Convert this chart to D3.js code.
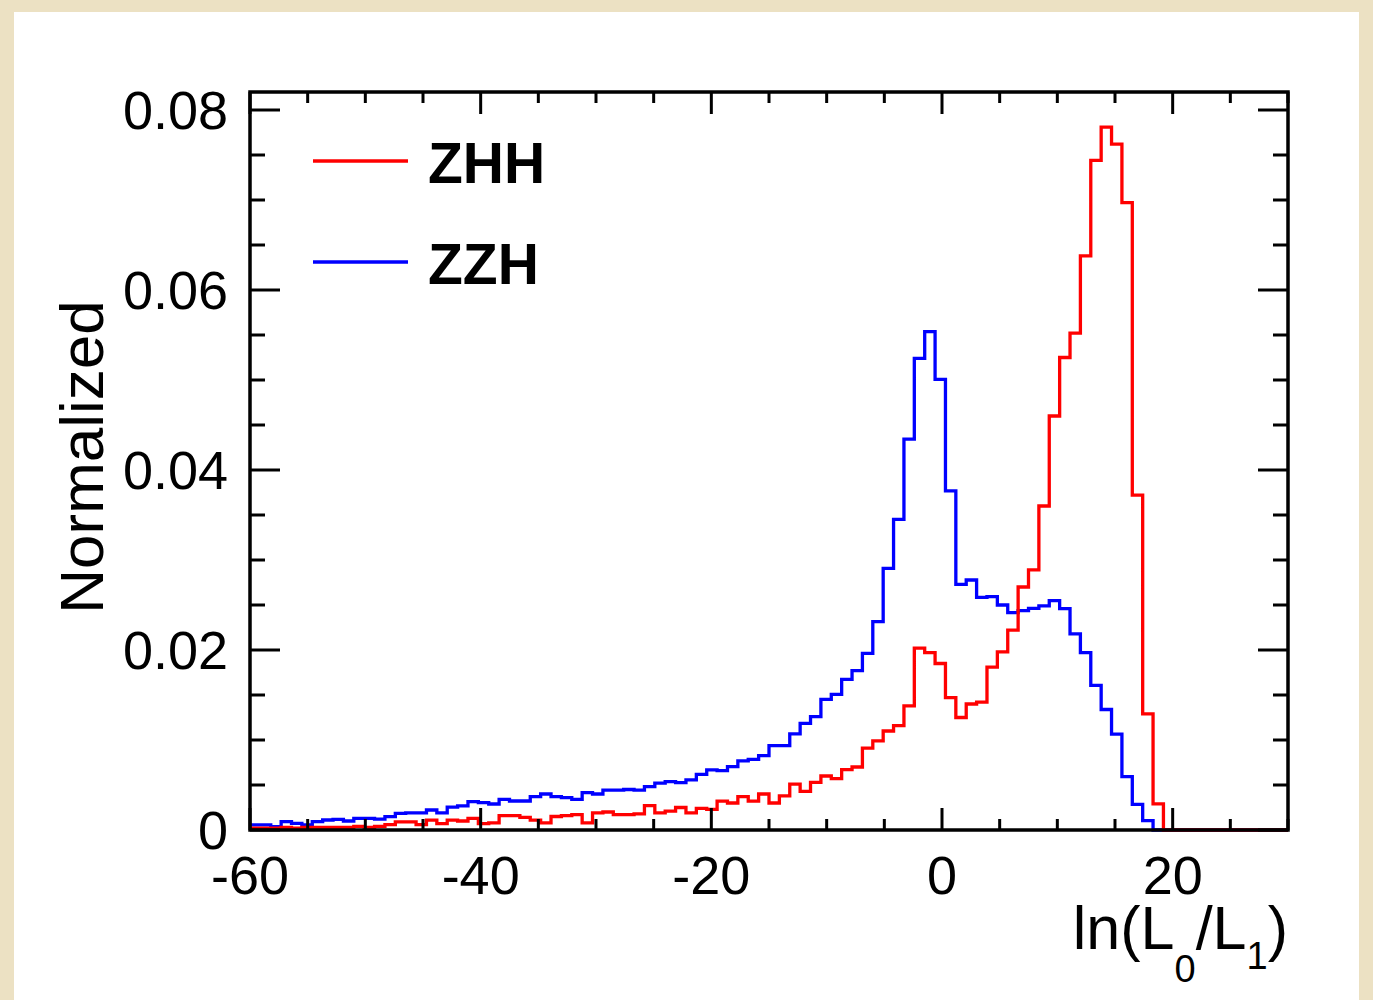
<!DOCTYPE html>
<html>
<head>
<meta charset="utf-8">
<script src="https://cdn.jsdelivr.net/npm/d3@7/dist/d3.min.js"></script>
<style>
  html, body { margin: 0; padding: 0; background: #ece1c3; }
  svg { display: block; }
  text { font-family: "Liberation Sans", Arial, Helvetica, sans-serif; fill: #000; }
</style>
</head>
<body>
<svg id="chart" width="1373" height="1000"></svg>
<script>
// ---- data ----
const binLow = -60;
const binHigh = 30;
const nBins = 100;

const zzhValues = [
  0.00056, 0.00056, 0.00037, 0.00093, 0.00074, 0.00056, 0.00093, 0.00111, 0.00119, 0.00100,
  0.00130, 0.00130, 0.00120, 0.00148, 0.00185, 0.00190, 0.00190, 0.00222, 0.00190, 0.00255,
  0.00267, 0.00315, 0.00304, 0.00289, 0.00341, 0.00322, 0.00322, 0.00370, 0.00400, 0.00370,
  0.00359, 0.00341, 0.00415, 0.00400, 0.00444, 0.00444, 0.00450, 0.00444, 0.00481, 0.00520,
  0.00537, 0.00526, 0.00556, 0.00619, 0.00667, 0.00659, 0.00704, 0.00767, 0.00785, 0.00826,
  0.00937, 0.00937, 0.01067, 0.01185, 0.01259, 0.01452, 0.01507, 0.01674, 0.01770, 0.01963,
  0.02315, 0.02907, 0.03452, 0.04344, 0.05241, 0.05537, 0.05007, 0.03767, 0.02730, 0.02778,
  0.02585, 0.02593, 0.02500, 0.02415, 0.02437, 0.02463, 0.02490, 0.02548, 0.02460, 0.02180,
  0.01971, 0.01606, 0.01339, 0.01066, 0.00593, 0.00285, 0.00104, 0, 0, 0,
  0, 0, 0, 0, 0, 0, 0, 0, 0, 0
];

const zhhValues = [
  0.0002, 0.0002, 0.0002, 0.0003, 0.0002, 0.0003, 0.0003, 0.0003, 0.0003, 0.0003,
  0.0004, 0.0003, 0.0004, 0.0006, 0.0009, 0.0009, 0.0006, 0.0011, 0.0007, 0.0011,
  0.0010, 0.0013, 0.0007, 0.0008, 0.0016, 0.0016, 0.0014, 0.0011, 0.0008, 0.0015,
  0.0016, 0.0017, 0.0008, 0.0019, 0.0020, 0.0017, 0.0017, 0.0018, 0.0027, 0.0019,
  0.0021, 0.0025, 0.0019, 0.0024, 0.0023, 0.0032, 0.0030, 0.0037, 0.0032, 0.0040,
  0.0030, 0.0038, 0.0051, 0.0043, 0.0053, 0.0060, 0.0057, 0.0067, 0.0070, 0.0091,
  0.0099, 0.0110, 0.0116, 0.0138, 0.0202, 0.0197, 0.0185, 0.0147, 0.0125, 0.0140,
  0.0142, 0.0181, 0.0198, 0.0222, 0.0270, 0.0289, 0.0360, 0.0460, 0.0525, 0.0552,
  0.0638, 0.0744, 0.0781, 0.0762, 0.0697, 0.0372, 0.0129, 0.0029, 0, 0,
  0, 0, 0, 0, 0, 0, 0, 0, 0, 0
];

const seriesNames = ["ZHH", "ZZH"];
const seriesColors = ["#ff0000", "#0000ff"];

const xMajorTicks = [-60, -40, -20, 0, 20];
const xTickLabels = ["-60", "-40", "-20", "0", "20"];
const yMajorTicks = [0, 0.02, 0.04, 0.06, 0.08];
const yTickLabels = ["0", "0.02", "0.04", "0.06", "0.08"];
const xMinorStep = 5;
const yMinorStep = 0.005;

// ---- layout ----
const svg = d3.select("#chart");
const L = 250, R = 1288, T = 92, B = 830;

svg.append("rect").attr("x", 14).attr("y", 12).attr("width", 1345).attr("height", 988).attr("fill", "#ffffff");

const x = d3.scaleLinear().domain([binLow, binHigh]).range([L, R]);
const y = d3.scaleLinear().domain([0, 0.082]).range([B, T]);

const binWidth = (binHigh - binLow) / nBins;

function histPoints(vals) {
  const pts = vals.map((v, i) => [binLow + i * binWidth, v]);
  pts.push([binHigh, vals[vals.length - 1]]);
  return pts;
}
const line = d3.line().x(d => x(d[0])).y(d => y(d[1])).curve(d3.curveStepAfter);

const plot = svg.append("g");
[[zzhValues, 1], [zhhValues, 0]].forEach(([vals, k]) => {
  plot.append("path")
    .attr("d", line(histPoints(vals)))
    .attr("fill", "none")
    .attr("stroke", seriesColors[k])
    .attr("stroke-width", 3.3)
    .attr("stroke-linejoin", "miter");
});

// ---- frame & ticks ----
const axes = svg.append("g").attr("stroke", "#000").attr("stroke-width", 3);
const xMinor = d3.range(binLow, binHigh + 0.001, xMinorStep);
const yMinor = d3.range(0, 0.0821, yMinorStep);

xMinor.forEach(v => {
  const major = xMajorTicks.some(m => Math.abs(m - v) < 1e-9);
  const len = major ? 22 : 11;
  axes.append("line").attr("x1", x(v)).attr("x2", x(v)).attr("y1", B).attr("y2", B - len);
  axes.append("line").attr("x1", x(v)).attr("x2", x(v)).attr("y1", T).attr("y2", T + len);
});
yMinor.forEach(v => {
  const major = yMajorTicks.some(m => Math.abs(m - v) < 1e-9);
  const len = major ? 30 : 15;
  axes.append("line").attr("x1", L).attr("x2", L + len).attr("y1", y(v)).attr("y2", y(v));
  axes.append("line").attr("x1", R).attr("x2", R - len).attr("y1", y(v)).attr("y2", y(v));
});
svg.append("rect").attr("x", L).attr("y", T).attr("width", R - L).attr("height", B - T)
  .attr("fill", "none").attr("stroke", "#000").attr("stroke-width", 3.5);

// ---- tick labels ----
yMajorTicks.forEach((v, i) => {
  svg.append("text").attr("x", 228).attr("y", y(v) + 19)
    .attr("text-anchor", "end").attr("font-size", 54).text(yTickLabels[i]);
});
xMajorTicks.forEach((v, i) => {
  svg.append("text").attr("x", x(v)).attr("y", 894)
    .attr("text-anchor", "middle").attr("font-size", 54).text(xTickLabels[i]);
});

// ---- axis titles ----
const xt = svg.append("text").attr("x", 1288).attr("y", 949).attr("text-anchor", "end").attr("font-size", 61);
xt.append("tspan").text("ln(L");
xt.append("tspan").attr("font-size", 38).attr("dy", 33).text("0");
xt.append("tspan").attr("dy", -33).text("/L");
xt.append("tspan").attr("font-size", 38).attr("dy", 20).text("1");
xt.append("tspan").attr("dy", -20).text(")");

svg.append("text")
  .attr("transform", "translate(103,457) rotate(-90)")
  .attr("text-anchor", "middle").attr("font-size", 62).text("Normalized");

// ---- legend ----
const legendY = [161, 262];
seriesNames.forEach((name, k) => {
  svg.append("line").attr("x1", 313).attr("x2", 408).attr("y1", legendY[k]).attr("y2", legendY[k])
    .attr("stroke", seriesColors[k]).attr("stroke-width", 3.3);
  svg.append("text").attr("x", 428).attr("y", legendY[k] + 22)
    .attr("font-size", 57).attr("font-weight", "bold").text(name);
});
</script>
</body>
</html>
